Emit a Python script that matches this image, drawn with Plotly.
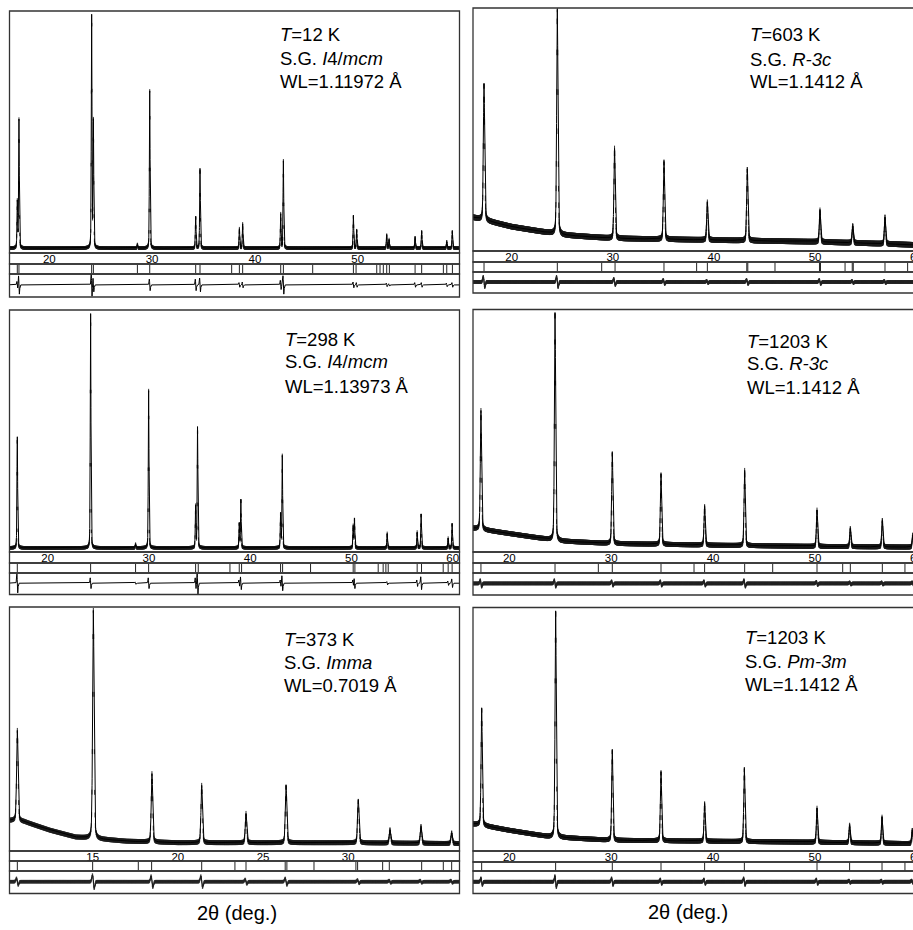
import numpy as np
import plotly.graph_objects as go

W, H = 913, 930

# ---------------- data ----------------
# Panel A : T=12 K, I4/mcm
a_pos = [16.89, 17.05, 24.12, 24.29, 28.57, 29.77, 34.24, 34.66, 38.49, 38.81,
         42.51, 42.77, 49.58, 49.90, 52.82, 53.05, 55.58, 56.22, 58.66, 59.20]
a_hgt = [19, 53, 96, 52, 1.5, 65, 13, 33, 8, 10,
         14, 36, 13.5, 7.5, 5.5, 3.5, 4.5, 7, 2.7, 7]
a_dif = [0.3, 0.8, 1.0, 0.6, 0.0, 0.5, 0.5, 0.6, 0.2, 0.25,
         0.4, 0.8, 0.25, 0.2, 0.15, 0.1, 0.2, 0.2, 0.15, 0.2]
a_bgx = [16.0, 60.0]
a_bgy = [2.0, 2.0]
a_refl = [16.89, 17.05, 24.12, 24.29, 28.57, 29.77, 34.24, 34.66, 37.74, 38.49,
          38.81, 42.51, 42.77, 45.62, 49.58, 49.84, 51.85, 52.17, 52.49, 52.82,
          53.08, 55.58, 56.22, 58.33, 58.66, 59.21]
a_ticks = [20, 30, 40, 50]
a_text = ["<i>T</i>=12 K", "S.G. <i>I</i>4/<i>mcm</i>", "WL=1.11972 Å"]

# Panel B : T=603 K, R-3c
b_pos = [17.26, 24.51, 30.17, 35.06, 39.35, 43.30, 50.49, 53.73, 56.92]
b_hgt = [56, 92.5, 37, 32, 15.5, 29.5, 13, 7, 11]
b_dif = [0.5, 0.5, 0.3, 0.2, 0.1, 0.2, 0.2, 0.1, 0.1]
b_bgx = [16.0, 17.0, 20.0, 25.0, 30.0, 40.0, 50.0, 55.0, 60.0]
b_bgy = [14.0, 13.0, 10.0, 6.6, 5.2, 4.5, 3.8, 3.2, 2.5]
b_refl = [17.26, 24.51, 28.90, 30.22, 35.06, 38.29, 39.35, 43.25, 43.35, 46.04,
          50.44, 50.54, 52.97, 53.68, 53.78, 56.92, 59.16]
b_ticks = [20, 30, 40, 50, 60]
b_text = ["<i>T</i>=603 K", "S.G. <i>R-3c</i>", "WL=1.1412 Å"]

# Panel C : T=298 K, I4/mcm
c_pos = [17.00, 24.24, 28.68, 29.97, 34.61, 34.80, 38.92, 39.08, 43.00, 43.17,
         50.17, 50.30, 53.53, 56.49, 56.88, 59.55, 59.94]
c_hgt = [46, 97, 1.5, 65, 17, 50, 10, 20, 14, 38,
         9, 12, 6, 6.5, 14, 4, 10]
c_dif = [0.9, 0.5, 0.1, 0.5, 0.5, 1.0, 0.3, 0.6, 0.3, 0.7,
         0.3, 0.5, 0.15, 0.3, 0.6, 0.2, 0.4]
c_bgx = [16.0, 61.0]
c_bgy = [1.7, 1.7]
c_refl = [17.00, 24.24, 28.68, 29.97, 34.61, 34.87, 38.00, 38.92, 39.15, 43.00,
          43.20, 45.96, 50.17, 50.34, 52.64, 53.13, 53.40, 53.63, 56.49, 56.92,
          59.06, 59.55, 59.94]
c_ticks = [20, 30, 40, 50, 60]
c_text = ["<i>T</i>=298 K", "S.G. <i>I</i>4/<i>mcm</i>", "WL=1.13973 Å"]

# Panel D : T=1203 K, R-3c
d_pos = [17.22, 24.49, 30.11, 34.89, 39.17, 43.10, 50.20, 53.47, 56.61, 59.60]
d_hgt = [49, 94, 37.5, 29, 16, 31, 15, 7.5, 11, 5]
d_dif = [0.3, 0.3, 0.2, 0.2, 0.2, 0.3, 0.15, 0.1, 0.1, 0.1]
d_bgx = [16.0, 17.0, 20.0, 25.0, 30.0, 40.0, 50.0, 60.0]
d_bgy = [10.0, 9.5, 7.6, 4.5, 3.5, 2.8, 2.3, 2.0]
d_refl = [17.22, 24.49, 28.74, 30.11, 34.89, 38.13, 39.17, 43.10, 45.85, 50.20,
          52.72, 53.47, 56.61, 58.83]
d_ticks = [20, 30, 40, 50, 60]
d_text = ["<i>T</i>=1203 K", "S.G. <i>R-3c</i>", "WL=1.1412 Å"]

# Panel E : T=373 K, Imma
e_pos = [10.58, 15.04, 18.48, 21.40, 24.00, 26.35, 30.59, 32.45, 34.27, 36.07]
e_hgt = [37, 93.5, 28, 23.5, 12, 23.5, 17.5, 5.5, 7, 4.4]
e_dif = [0.3, 0.6, 0.5, 0.5, 0.2, 0.3, 0.15, 0.1, 0.1, 0.1]
e_bgx = [10.0, 10.5, 11.0, 12.5, 14.0, 17.0, 20.0, 25.0, 30.0, 37.0]
e_bgy = [12.5, 12.5, 12.0, 8.5, 5.7, 4.0, 3.4, 3.4, 3.4, 3.0]
e_refl = [10.58, 15.00, 17.68, 18.46, 21.40, 23.35, 24.00, 26.30, 26.40, 27.99,
          30.45, 30.55, 32.02, 32.41, 34.31, 35.58, 36.07]
e_ticks = [15, 20, 25, 30]
e_text = ["<i>T</i>=373 K", "S.G. <i>Imma</i>", "WL=0.7019 Å"]

# Panel F : T=1203 K, Pm-3m
f_pos = [17.29, 24.55, 30.11, 34.89, 39.17, 43.07, 50.20, 53.40, 56.58, 59.55]
f_hgt = [48, 93, 37, 28.3, 15.5, 30, 14, 7.2, 10.7, 5.5]
f_dif = [0.3, 0.5, 0.3, 0.2, 0.2, 0.3, 0.2, 0.1, 0.1, 0.1]
f_bgx = [16.0, 17.0, 20.0, 24.0, 30.0, 40.0, 50.0, 60.0]
f_bgy = [11.2, 10.8, 8.5, 5.8, 4.4, 4.0, 3.6, 3.0]
f_refl = [17.29, 24.55, 30.11, 34.89, 39.17, 43.07, 50.20, 53.40, 56.58, 58.83]
f_ticks = [20, 30, 40, 50, 60]
f_text = ["<i>T</i>=1203 K", "S.G. <i>Pm-3m</i>", "WL=1.1412 Å"]

x_title = "2θ (deg.)"

# ---------------- layout / style spec (pixels) ----------------
panels = [
    dict(pos=a_pos, hgt=a_hgt, dif=a_dif, bgx=a_bgx, bgy=a_bgy, refl=a_refl, ticks=a_ticks, text=a_text,
         x0=9.5, x1=459.5, top=11, mb=253, lb=264, rb=274, db=297, xr=(16.13, 59.9),
         fwhm=0.08, obs=2.5, dnoise=0, tx=278, ty=(35, 58.5, 82), edge=False),
    dict(pos=b_pos, hgt=b_hgt, dif=b_dif, bgx=b_bgx, bgy=b_bgy, refl=b_refl, ticks=b_ticks, text=b_text,
         x0=473, x1=913, top=8, mb=251, lb=262, rb=272, db=293, xr=(16.17, 59.69),
         fwhm=0.15, obs=4, dnoise=2.5, tx=748, ty=(35, 59, 82), edge=True),
    dict(pos=c_pos, hgt=c_hgt, dif=c_dif, bgx=c_bgx, bgy=c_bgy, refl=c_refl, ticks=c_ticks, text=c_text,
         x0=9.5, x1=459.5, top=310, mb=552, lb=563, rb=573, db=594.5, xr=(16.23, 60.67),
         fwhm=0.08, obs=2.5, dnoise=0, tx=283, ty=(339.5, 362, 386), edge=False),
    dict(pos=d_pos, hgt=d_hgt, dif=d_dif, bgx=d_bgx, bgy=d_bgy, refl=d_refl, ticks=d_ticks, text=d_text,
         x0=473, x1=913, top=309.5, mb=552, lb=563, rb=573, db=595, xr=(16.44, 59.62),
         fwhm=0.14, obs=3.5, dnoise=2.5, tx=745, ty=(341, 364, 387.5), edge=True),
    dict(pos=e_pos, hgt=e_hgt, dif=e_dif, bgx=e_bgx, bgy=e_bgy, refl=e_refl, ticks=e_ticks, text=e_text,
         x0=9.5, x1=459.5, top=607, mb=851, lb=861, rb=871, db=893.5, xr=(10.12, 36.53),
         fwhm=0.1, obs=3.5, dnoise=2.5, tx=281.5, ty=(639.5, 662, 685), edge=False),
    dict(pos=f_pos, hgt=f_hgt, dif=f_dif, bgx=f_bgx, bgy=f_bgy, refl=f_refl, ticks=f_ticks, text=f_text,
         x0=473, x1=913, top=607.5, mb=851, lb=862, rb=871, db=893.5, xr=(16.44, 59.62),
         fwhm=0.14, obs=3.5, dnoise=2.5, tx=743, ty=(637, 661, 684), edge=True),
]

FONT = "Liberation Sans, Arial, sans-serif"
FRAME = "#333333"
TICKSIZE = 11.5


def px_x(px):
    return px / W


def px_y(py):
    return 1 - py / H


def profile(x, pos, hgt, fwhm, bgx, bgy):
    y = np.interp(x, bgx, bgy)
    for p, h in zip(pos, hgt):
        d = (x - p) / fwhm
        y = y + h * (0.7 * np.exp(-4 * np.log(2) * d * d) + 0.3 / (1 + 4 * d * d))
    return y


def difference(x, pos, amp, fwhm):
    y = np.zeros_like(x)
    s = fwhm * 0.5
    for p, a in zip(pos, amp):
        d = (x - p) / s
        y = y - a * d * np.exp(0.5 - 0.5 * d * d)
    return y


fig = go.Figure()
layout = dict(width=W, height=H, margin=dict(l=0, r=0, t=0, b=0),
              paper_bgcolor="white", plot_bgcolor="rgba(0,0,0,0)", showlegend=False,
              font=dict(family=FONT, color="black"))
shapes = []
annotations = []

for i, P in enumerate(panels):
    xi = i + 1
    ym, yr, yd = 3 * i + 1, 3 * i + 2, 3 * i + 3
    xname = "x" if xi == 1 else f"x{xi}"
    yname = lambda k: "y" if k == 1 else f"y{k}"
    xkey = "xaxis" if xi == 1 else f"xaxis{xi}"
    ykey = lambda k: "yaxis" if k == 1 else f"yaxis{k}"

    lo, hi = P["xr"]
    xf = np.arange(lo - 0.2, hi + 0.2, 0.004)
    xo = np.arange(lo - 0.2, hi + 0.2, 0.02)
    ycalc = profile(xf, P["pos"], P["hgt"], P["fwhm"], P["bgx"], P["bgy"])
    yobs = profile(xo, P["pos"], P["hgt"], P["fwhm"], P["bgx"], P["bgy"])

    # observed points
    fig.add_trace(go.Scatter(x=xo, y=yobs, mode="markers", xaxis=xname, yaxis=yname(ym),
                             marker=dict(symbol="line-ns", size=P["obs"],
                                         line=dict(width=0.9, color="#1a1a1a")),
                             hoverinfo="skip"))
    # calculated line
    fig.add_trace(go.Scatter(x=xf, y=ycalc, mode="lines", xaxis=xname, yaxis=yname(ym),
                             line=dict(color="black", width=1), hoverinfo="skip"))
    # reflection markers
    fig.add_trace(go.Scatter(x=P["refl"], y=[0] * len(P["refl"]), mode="markers",
                             xaxis=xname, yaxis=yname(yr),
                             marker=dict(symbol="line-ns", size=6, line=dict(width=1, color="#222222")),
                             hoverinfo="skip"))
    # difference curve
    ydf = difference(xf, P["pos"], P["dif"], P["fwhm"])
    fig.add_trace(go.Scatter(x=xf, y=ydf, mode="lines", xaxis=xname, yaxis=yname(yd),
                             line=dict(color="black", width=1), hoverinfo="skip"))
    if P["dnoise"]:
        ydo = difference(xo, P["pos"], P["dif"], P["fwhm"])
        fig.add_trace(go.Scatter(x=xo, y=ydo, mode="markers", xaxis=xname, yaxis=yname(yd),
                                 marker=dict(symbol="line-ns", size=P["dnoise"],
                                             line=dict(width=0.8, color="#222222")),
                                 hoverinfo="skip"))

    dom_x = [px_x(P["x0"]), min(1.0, px_x(P["x1"]))]
    layout[xkey] = dict(domain=dom_x, range=list(P["xr"]), anchor="free", position=px_y(P["mb"] - 2.5),
                        tickmode="array", tickvals=P["ticks"], ticks="", showline=False,
                        showgrid=False, zeroline=False,
                        tickfont=dict(size=TICKSIZE, family=FONT, color="black"))
    layout[ykey(ym)] = dict(domain=[px_y(P["mb"]), px_y(P["top"])], range=[0, 100], visible=False,
                            anchor=xname)
    layout[ykey(yr)] = dict(domain=[px_y(P["rb"]), px_y(P["lb"])], range=[-1, 1], visible=False,
                            anchor=xname)
    layout[ykey(yd)] = dict(domain=[px_y(P["db"]), px_y(P["rb"])], range=[-1.05, 0.95], visible=False,
                            anchor=xname)

    right = px_x(P["x1"] + 4) if P["edge"] else px_x(P["x1"])
    for (t, b) in [(P["top"], P["mb"]), (P["mb"], P["lb"]), (P["lb"], P["rb"]), (P["rb"], P["db"])]:
        shapes.append(dict(type="rect", xref="paper", yref="paper", x0=px_x(P["x0"]), x1=right,
                           y0=px_y(b), y1=px_y(t), line=dict(color=FRAME, width=1.3), layer="above"))

    for line, yy in zip(P["text"], P["ty"]):
        annotations.append(dict(text=line, xref="paper", yref="paper", x=px_x(P["tx"]), y=px_y(yy),
                                xanchor="left", yanchor="middle", showarrow=False,
                                font=dict(size=18.5, family=FONT, color="black")))

    # tick label for 60 that is cut by the image edge in the right column
    if P["edge"]:
        frac = (60 - lo) / (hi - lo)
        xp = dom_x[0] + frac * (dom_x[1] - dom_x[0])
        annotations.append(dict(text="60", xref="paper", yref="paper", x=xp,
                                y=px_y((P["mb"] + P["lb"]) / 2), xanchor="center", yanchor="middle",
                                showarrow=False, font=dict(size=TICKSIZE, family=FONT, color="black")))

annotations.append(dict(text=x_title, xref="paper", yref="paper", x=px_x(237), y=px_y(913),
                        xanchor="center", yanchor="middle", showarrow=False,
                        font=dict(size=20, family=FONT, color="black")))
annotations.append(dict(text=x_title, xref="paper", yref="paper", x=px_x(688), y=px_y(912),
                        xanchor="center", yanchor="middle", showarrow=False,
                        font=dict(size=20, family=FONT, color="black")))

layout["shapes"] = shapes
layout["annotations"] = annotations
fig.update_layout(**layout)
fig.write_html("out.html")
